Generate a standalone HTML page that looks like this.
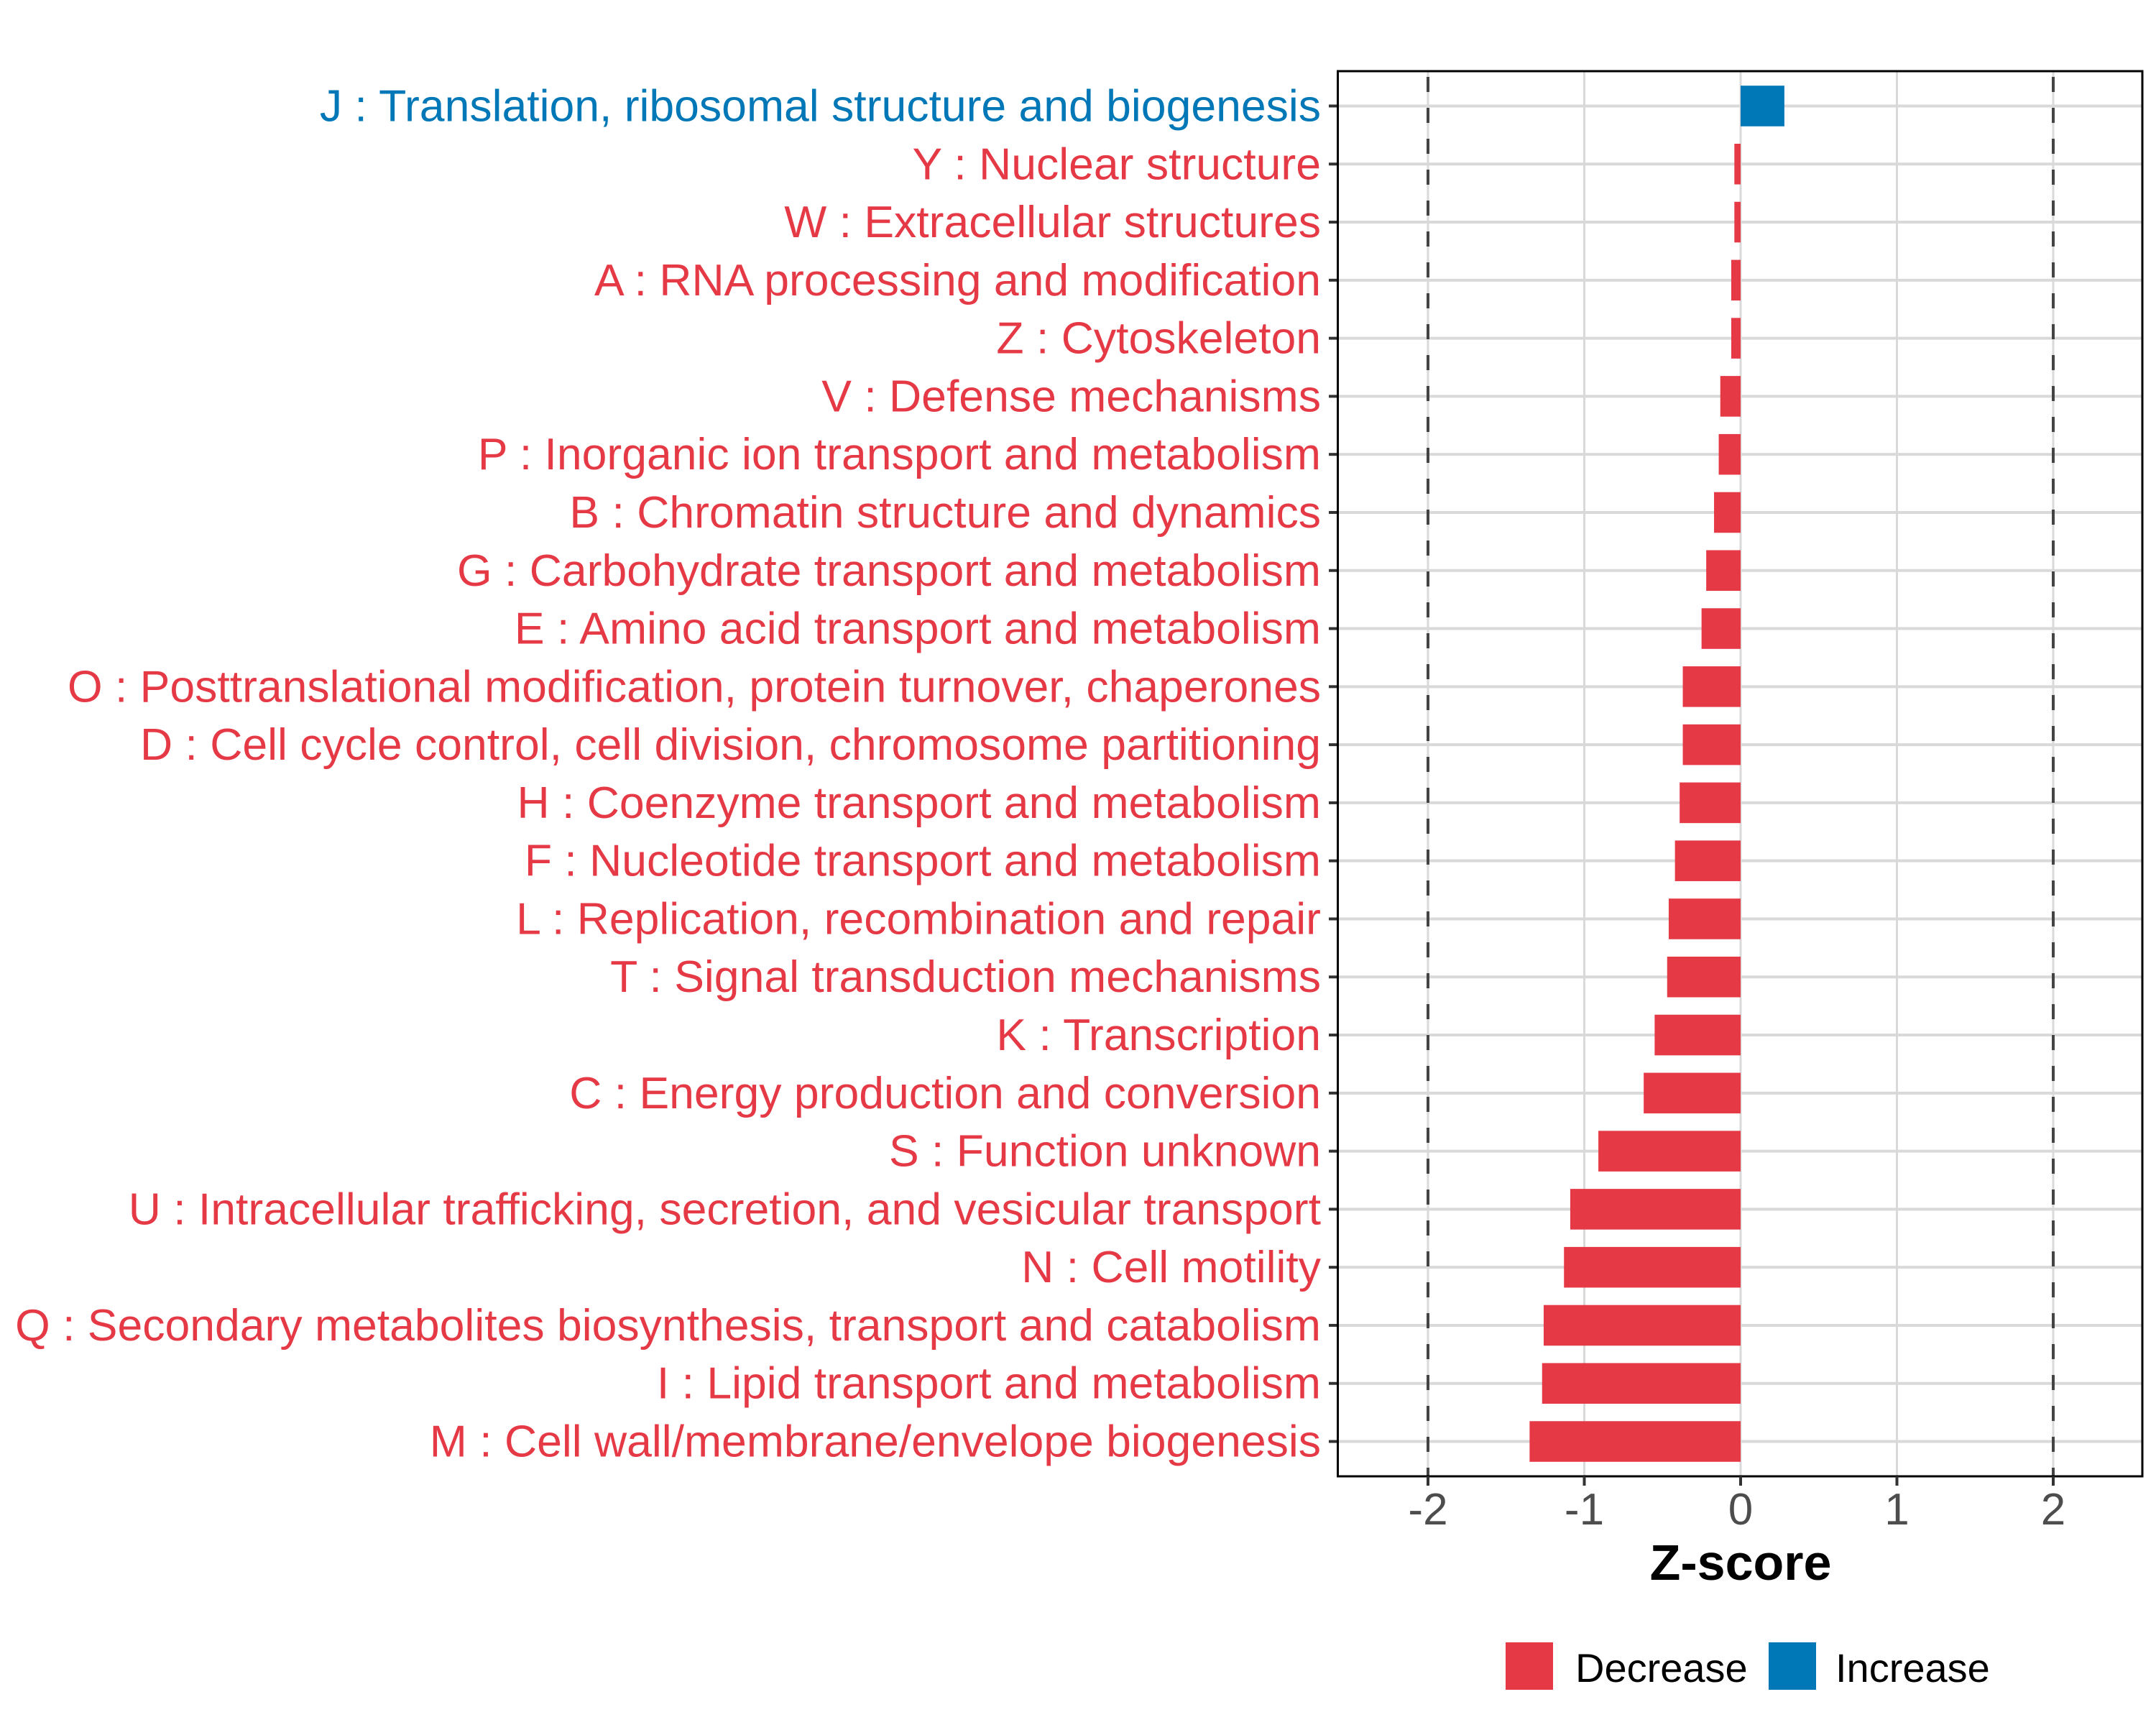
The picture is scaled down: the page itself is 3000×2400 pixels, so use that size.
<!DOCTYPE html>
<html><head><meta charset="utf-8"><style>html,body{margin:0;padding:0;background:#fff}svg{display:block}</style></head>
<body>
<svg id="chart" width="3000" height="2400" viewBox="0 0 3000 2400" xmlns="http://www.w3.org/2000/svg" font-family="'Liberation Sans', Arial, sans-serif">
<rect width="3000" height="2400" fill="#fff"/>
<g id="grid"></g>
<g id="bars"></g>
<g id="labels"></g>
<g id="xaxis"></g>
<text x="2422" y="2198" font-size="70" font-weight="bold" text-anchor="middle" fill="#000">Z-score</text>
<g>
<rect x="2095" y="2285" width="66" height="66" fill="#E63946"/>
<text x="2192" y="2340" font-size="56" fill="#000">Decrease</text>
<rect x="2461" y="2285" width="66" height="66" fill="#0077B6"/>
<text x="2554" y="2340" font-size="56" fill="#000">Increase</text>
</g>
</svg>
<script>
const categories = [
"J : Translation, ribosomal structure and biogenesis",
"Y : Nuclear structure",
"W : Extracellular structures",
"A : RNA processing and modification",
"Z : Cytoskeleton",
"V : Defense mechanisms",
"P : Inorganic ion transport and metabolism",
"B : Chromatin structure and dynamics",
"G : Carbohydrate transport and metabolism",
"E : Amino acid transport and metabolism",
"O : Posttranslational modification, protein turnover, chaperones",
"D : Cell cycle control, cell division, chromosome partitioning",
"H : Coenzyme transport and metabolism",
"F : Nucleotide transport and metabolism",
"L : Replication, recombination and repair",
"T : Signal transduction mechanisms",
"K : Transcription",
"C : Energy production and conversion",
"S : Function unknown",
"U : Intracellular trafficking, secretion, and vesicular transport",
"N : Cell motility",
"Q : Secondary metabolites biosynthesis, transport and catabolism",
"I : Lipid transport and metabolism",
"M : Cell wall/membrane/envelope biogenesis"
];
const zscores = [0.28,-0.04,-0.04,-0.06,-0.06,-0.13,-0.14,-0.17,-0.22,-0.25,-0.37,-0.37,-0.39,-0.42,-0.46,-0.47,-0.55,-0.62,-0.91,-1.09,-1.13,-1.26,-1.27,-1.35];
const xTicks = [-2,-1,0,1,2];
const xTickLabels = ["-2","-1","0","1","2"];
const thresholds = [-2,2];

const NS='http://www.w3.org/2000/svg';
const L=1861.5,R=2981,T=99,B=2054;
const x0=2422,unit=217.5;
const X=v=>x0+v*unit;
const step=(B-T)/(categories.length+0.2);
const Y=i=>T+step*(0.6+i);
const RED='#E63946',BLUE='#0077B6';
function mk(tag,attrs,parent){const e=document.createElementNS(NS,tag);for(const k in attrs)e.setAttribute(k,attrs[k]);parent.appendChild(e);return e;}
const grid=document.getElementById('grid'),bars=document.getElementById('bars'),labels=document.getElementById('labels'),xaxis=document.getElementById('xaxis');
categories.forEach((c,i)=>{
 const l=mk('line',{x1:L,x2:R,y1:Y(i),y2:Y(i),stroke:'#D9D9D9','stroke-width':4},grid);
 
 
});
xTicks.forEach(t=>{
 const l=mk('line',{x1:X(t),x2:X(t),y1:T,y2:B,stroke:'#D9D9D9','stroke-width':3},grid);
 
 
});
thresholds.forEach(t=>{
 const l=mk('line',{x1:X(t),x2:X(t),y1:T,y2:B,stroke:'#444','stroke-width':4,'stroke-dasharray':'21 22','stroke-dashoffset':'-8'},grid);
 
 
});
categories.forEach((c,i)=>{
 const v=zscores[i];const col=v>=0?BLUE:RED;
 const x=Math.min(X(0),X(v)),w=Math.abs(X(v)-X(0));
 const r=mk('rect',{x:x,y:Y(i)-step*0.35,width:w,height:step*0.7,fill:col},bars);
 
 
 const t=mk('text',{x:1838,y:Y(i)+21,'text-anchor':'end','font-size':62.5,fill:col},labels);
 t.textContent=c;
 
 
 const tk=mk('line',{x1:1849,x2:L,y1:Y(i),y2:Y(i),stroke:'#333','stroke-width':4},labels);
 
 
});
const border=mk('rect',{x:L,y:T,width:R-L,height:B-T,fill:'none',stroke:'#000','stroke-width':3},xaxis);


xTicks.forEach((t,i)=>{
 const tk=mk('line',{x1:X(t),x2:X(t),y1:B,y2:B+13,stroke:'#333','stroke-width':4},xaxis);
 
 
 const tl=mk('text',{x:X(t),y:2121,'text-anchor':'middle','font-size':62,fill:'#4D4D4D'},xaxis);
 tl.textContent=xTickLabels[i];
 
 
});
</script>
</body></html>
